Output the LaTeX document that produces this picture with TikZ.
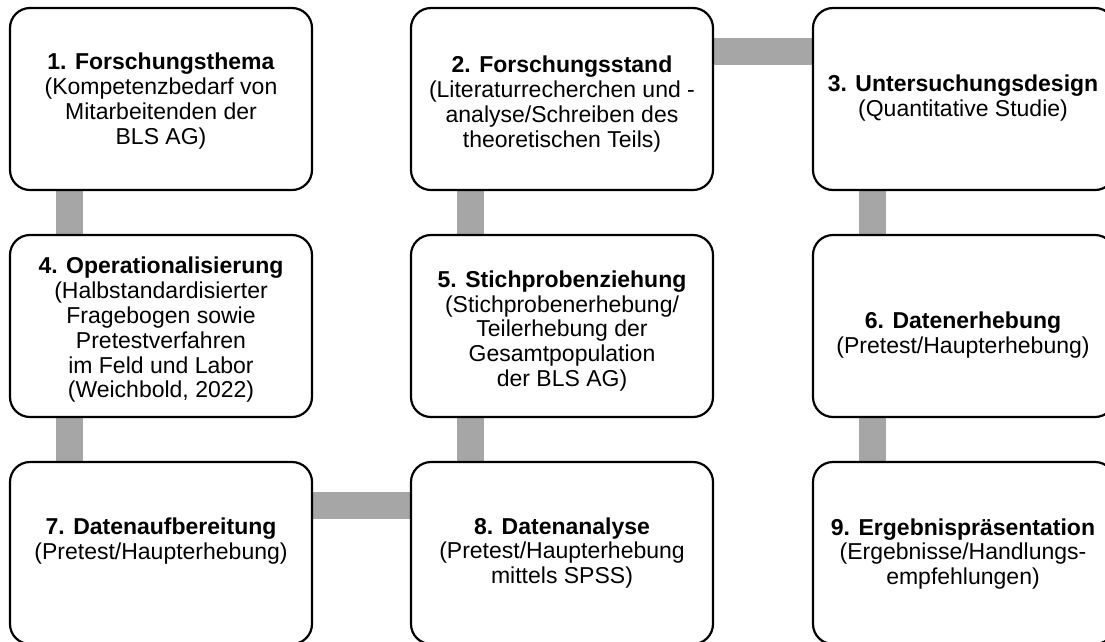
\documentclass[tikz,border=0pt]{standalone}
\usepackage{fontspec}
\setmainfont{Liberation Sans}
\usetikzlibrary{calc}
\pgfdeclarelayer{bg}
\pgfsetlayers{bg,main}
\definecolor{linkgray}{HTML}{A6A6A6}
\tikzset{
  stage/.style={draw=black, line width=2.2pt, rounded corners=20pt, fill=white,
    minimum width=302pt, minimum height=182pt, inner sep=0pt},
  stagetext/.style={align=center, inner sep=0pt, text=black,
    font=\fontsize{23}{24.8}\selectfont},
  link/.style={draw=linkgray, line width=27pt}
}
\begin{document}
\begin{tikzpicture}[x=1pt, y=-1pt]
\useasboundingbox (0,0) rectangle (1105,641);
\clip (0,0) rectangle (1105,641);

% stage boxes
\node[stage] (b1) at (161,99) {};
\node[stage] (b2) at (562,99) {};
\node[stage] (b3) at (964,99) {};
\node[stage] (b4) at (161,326) {};
\node[stage] (b5) at (562,326) {};
\node[stage] (b6) at (964,326) {};
\node[stage] (b7) at (161,553) {};
\node[stage] (b8) at (562,553) {};
\node[stage] (b9) at (964,553) {};

% stage texts
\node[stagetext] (t1) at (161,101) {\textbf{1. Forschungsthema}\\(Kompetenzbedarf von\\Mitarbeitenden der\\BLS AG)};
\node[stagetext] (t2) at (562,104) {\textbf{2. Forschungsstand}\\(Literaturrecherchen und -\\analyse/Schreiben des\\theoretischen Teils)};
\node[stagetext] (t3) at (963,98) {\textbf{3. Untersuchungsdesign}\\(Quantitative Studie)};
\node[stagetext] (t4) at (161,330) {\textbf{4. Operationalisierung}\\(Halbstandardisierter\\Fragebogen sowie\\Pretestverfahren\\im Feld und Labor\\(Weichbold, 2022)};
\node[stagetext] (t5) at (562,331) {\textbf{5. Stichprobenziehung}\\(Stichprobenerhebung/\\Teilerhebung der\\Gesamtpopulation\\der BLS AG)};
\node[stagetext] (t6) at (963,335) {\textbf{6. Datenerhebung}\\(Pretest/Haupterhebung)};
\node[stagetext] (t7) at (161,541) {\textbf{7. Datenaufbereitung}\\(Pretest/Haupterhebung)};
\node[stagetext] (t8) at (562,553) {\textbf{8. Datenanalyse}\\(Pretest/Haupterhebung\\mittels SPSS)};
\node[stagetext] (t9) at (963,554) {\textbf{9. Ergebnispräsentation}\\(Ergebnisse/Handlungs-\\empfehlungen)};

% gray links between the stages
\begin{pgfonlayer}{bg}
  \draw[link] ($(b1.south west)+(61,0)$) -- ($(b4.north west)+(61,0)$);
  \draw[link] ($(b4.south west)+(61,0)$) -- ($(b7.north west)+(61,0)$);
  \draw[link] ($(b2.south west)+(61,0)$) -- ($(b5.north west)+(61,0)$);
  \draw[link] ($(b5.south west)+(61,0)$) -- ($(b8.north west)+(61,0)$);
  \draw[link] ($(b3.south west)+(61,0)$) -- ($(b6.north west)+(61,0)$);
  \draw[link] ($(b6.south west)+(61,0)$) -- ($(b9.north west)+(61,0)$);
  \draw[link] ($(b2.north east)+(0,45)$) -- ($(b3.north west)+(0,45)$);
  \draw[link] ($(b7.north east)+(0,45)$) -- ($(b8.north west)+(0,45)$);
\end{pgfonlayer}
\end{tikzpicture}
\end{document}
